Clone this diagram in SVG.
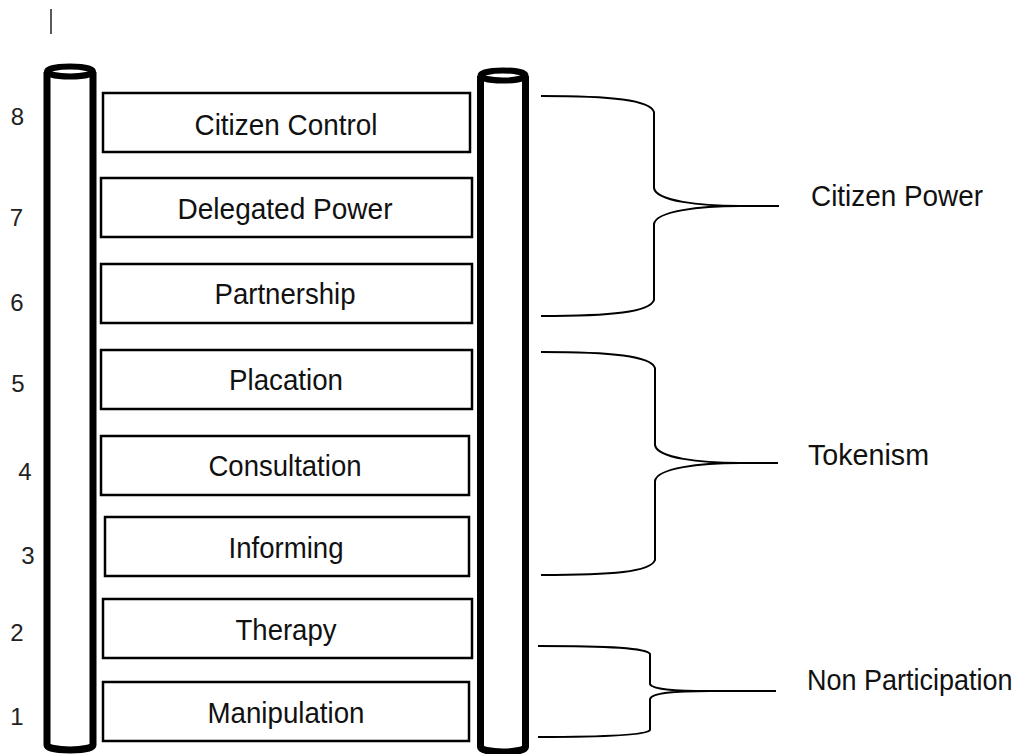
<svg xmlns="http://www.w3.org/2000/svg" width="1023" height="754" viewBox="0 0 1023 754">
<style>
.pole{fill:none;stroke:#000;stroke-width:7}
.cap{fill:#fff;stroke:#000;stroke-width:6}
.box{fill:#fff;stroke:#000;stroke-width:2.5}
.lbl{font-family:"Liberation Sans",Arial,sans-serif;font-size:30px;fill:#111;text-anchor:middle}
.grp{font-family:"Liberation Sans",Arial,sans-serif;font-size:30px;fill:#111}
.num{font-family:"Liberation Sans",Arial,sans-serif;font-size:24px;fill:#222;text-anchor:middle}
.brace{fill:none;stroke:#000;stroke-width:2}
</style>
<rect width="1023" height="754" fill="#fff"/>
<line x1="51" y1="9" x2="51" y2="34" stroke="#222" stroke-width="1.5"/>
<g id="pole-left">
<path class="pole" d="M47,72 V745 A23,5 0 0 0 93,745 V72"/>
<ellipse class="cap" cx="70" cy="71.5" rx="23" ry="5"/>
</g>
<g id="pole-right">
<path class="pole" d="M480.5,76 V747 A22.5,5 0 0 0 525.5,747 V76"/>
<ellipse class="cap" cx="503" cy="75.5" rx="22.5" ry="5"/>
</g>
<g id="rung-8"><rect class="box" x="103" y="93" width="367" height="59"/><text class="lbl" x="286" y="135" textLength="183" lengthAdjust="spacingAndGlyphs">Citizen Control</text></g>
<g id="rung-7"><rect class="box" x="101" y="178" width="371" height="59"/><text class="lbl" x="285" y="219" textLength="215" lengthAdjust="spacingAndGlyphs">Delegated Power</text></g>
<g id="rung-6"><rect class="box" x="101" y="264" width="371" height="59"/><text class="lbl" x="285" y="304" textLength="141" lengthAdjust="spacingAndGlyphs">Partnership</text></g>
<g id="rung-5"><rect class="box" x="101" y="350" width="371" height="59"/><text class="lbl" x="286" y="390" textLength="114" lengthAdjust="spacingAndGlyphs">Placation</text></g>
<g id="rung-4"><rect class="box" x="101" y="436" width="368" height="59"/><text class="lbl" x="285" y="476" textLength="153" lengthAdjust="spacingAndGlyphs">Consultation</text></g>
<g id="rung-3"><rect class="box" x="105" y="517" width="364" height="59"/><text class="lbl" x="286" y="558" textLength="115" lengthAdjust="spacingAndGlyphs">Informing</text></g>
<g id="rung-2"><rect class="box" x="103" y="599" width="369" height="59"/><text class="lbl" x="286" y="640" textLength="101" lengthAdjust="spacingAndGlyphs">Therapy</text></g>
<g id="rung-1"><rect class="box" x="103" y="682" width="366" height="59"/><text class="lbl" x="286" y="723" textLength="157" lengthAdjust="spacingAndGlyphs">Manipulation</text></g>
<g id="numbers">
<text class="num" x="17.5" y="125">8</text>
<text class="num" x="16.5" y="226">7</text>
<text class="num" x="17" y="311">6</text>
<text class="num" x="18" y="392">5</text>
<text class="num" x="25" y="480">4</text>
<text class="num" x="28" y="564">3</text>
<text class="num" x="17" y="641">2</text>
<text class="num" x="17" y="725">1</text>
</g>
<g id="connectors">
<path class="brace" d="M541,96 C612,96 650,100 654,112 V188 C656,201 700,206 740,206 H779 M740,206 C700,206 656,211 654,224 V300 C650,312 612,316 541,316"/>
<path class="brace" d="M541,352 C612,352 651,356 655,368 V445 C657,458 700,463 740,463 H778 M740,463 C700,463 657,468 655,481 V560 C651,572 612,575 541,575"/>
<path class="brace" d="M538,646 C610,646 647,648 650,654 V684 C652,690 680,691 710,691 H776 M710,691 C680,691 652,692 650,699 V730 C647,735 610,737 538,737"/>
</g>
<g id="group-citizen-power"><text class="grp" x="811" y="206" textLength="172" lengthAdjust="spacingAndGlyphs">Citizen Power</text></g>
<g id="group-tokenism"><text class="grp" x="808" y="465" textLength="121" lengthAdjust="spacingAndGlyphs">Tokenism</text></g>
<g id="group-non-participation"><text class="grp" transform="translate(807,690) scale(1,1.1)" x="0" y="0" style="font-size:27px">Non Participation</text></g>
</svg>
